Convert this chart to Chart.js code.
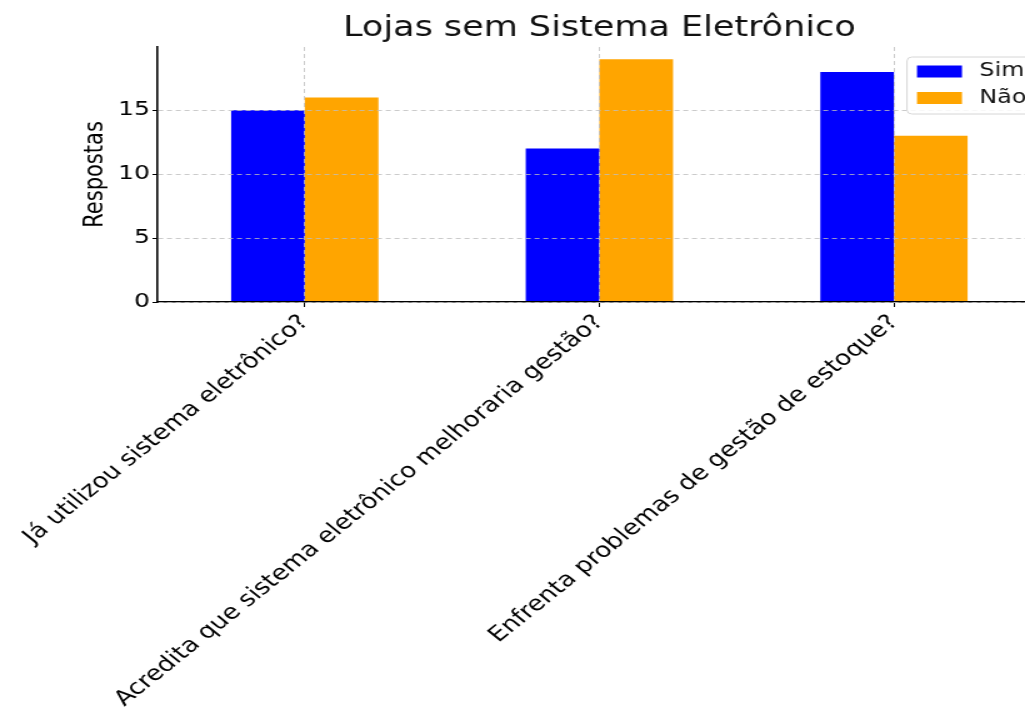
<!DOCTYPE html>
<html><head><meta charset="utf-8">
<script src="https://cdn.jsdelivr.net/npm/chart.js@4/dist/chart.umd.min.js"></script>
<style>
html,body{margin:0;padding:0;overflow:hidden;background:#fff;width:1025px;height:711px}
#wrap{width:833px;height:711px;transform:scaleX(1.25);transform-origin:0 0}
#c{display:block}
</style></head>
<body><div id="wrap"><canvas id="c" width="833" height="711" style="width:833px;height:711px"></canvas></div>
<script>
const categories = [
  "Já utilizou sistema eletrônico?",
  "Acredita que sistema eletrônico melhoraria gestão?",
  "Enfrenta problemas de gestão de estoque?"
];
const seriesNames = ["Sim", "Não"];
const simValues = [15, 12, 18];
const naoValues = [16, 19, 13];
const yTickValues = [0, 5, 10, 15];
const titleText = "Lojas sem Sistema Eletrônico";
const yAxisTitle = "Respostas";

const FONT = "DejaVu Sans";

const legendPlugin = {
  id: 'mplLegend',
  afterDraw(chart) {
    const ctx = chart.ctx;
    const ca = chart.chartArea;
    const x0 = ca.right - 107.4;
    const y0 = 57;
    const w = 120, h = 57;
    ctx.save();
    ctx.beginPath();
    const r = 4;
    ctx.moveTo(x0 + r, y0);
    ctx.lineTo(x0 + w - r, y0);
    ctx.quadraticCurveTo(x0 + w, y0, x0 + w, y0 + r);
    ctx.lineTo(x0 + w, y0 + h - r);
    ctx.quadraticCurveTo(x0 + w, y0 + h, x0 + w - r, y0 + h);
    ctx.lineTo(x0 + r, y0 + h);
    ctx.quadraticCurveTo(x0, y0 + h, x0, y0 + h - r);
    ctx.lineTo(x0, y0 + r);
    ctx.quadraticCurveTo(x0, y0, x0 + r, y0);
    ctx.closePath();
    ctx.fillStyle = 'rgba(255,255,255,0.85)';
    ctx.fill();
    ctx.strokeStyle = '#d6d6d6';
    ctx.lineWidth = 1;
    ctx.stroke();
    const rows = [71.5, 98];
    chart.data.datasets.forEach((ds, i) => {
      ctx.fillStyle = ds.backgroundColor;
      ctx.fillRect(x0 + 8, rows[i] - 6, 36, 12);
      ctx.fillStyle = '#111';
      ctx.font = `19px "${FONT}"`;
      ctx.textBaseline = 'middle';
      ctx.textAlign = 'left';
      ctx.fillText(ds.label, x0 + 58, rows[i]);
    });
    ctx.restore();
  }
};

new Chart(document.getElementById('c'), {
  type: 'bar',
  data: {
    labels: categories,
    datasets: [
      { label: seriesNames[0], data: simValues, backgroundColor: '#0000ff', borderWidth: 0,
        barPercentage: 1.0, categoryPercentage: 0.5 },
      { label: seriesNames[1], data: naoValues, backgroundColor: '#ffa500', borderWidth: 0,
        barPercentage: 1.0, categoryPercentage: 0.5 }
    ]
  },
  options: {
    responsive: false,
    animation: false,
    devicePixelRatio: 1,
    layout: { padding: { left: 60, right: 0, top: 0, bottom: 0 } },
    plugins: {
      legend: { display: false },
      tooltip: { enabled: false },
      title: {
        display: true, text: titleText, fullSize: false, color: '#111',
        font: { family: FONT, size: 28, weight: 'normal' },
        padding: { top: 12, bottom: 1.4 }
      }
    },
    scales: {
      x: {
        offset: true,
        grid: { display: true, offset: false, color: 'rgba(190,190,190,0.8)', lineWidth: 1,
                z: 1, drawTicks: true, tickLength: 5, tickColor: '#000', tickWidth: 1 },
        border: { display: true, color: '#000', width: 1.6, dash: [4, 3], z: 1 },
        ticks: { color: '#000', font: { family: FONT, size: 21 }, minRotation: 45, maxRotation: 45,
                 autoSkip: false, padding: 3 },
        afterFit(s) { s.height = 409; s.paddingLeft = 0; s.paddingRight = 0; }
      },
      y: {
        min: 0, max: 19.95,
        grid: { display: true, color: 'rgba(190,190,190,0.8)', lineWidth: 1, z: 1,
                drawTicks: true, tickLength: 4, tickColor: '#000', tickWidth: 1 },
        border: { display: true, color: '#000', width: 1.6, dash: [4, 3], z: 1 },
        ticks: { color: '#000', font: { family: FONT, size: 20 }, stepSize: 5, padding: 2 },
        afterBuildTicks(s) { s.ticks = yTickValues.map(v => ({ value: v })); },
        title: { display: true, text: yAxisTitle, color: '#000', font: { family: FONT, size: 21 },
                 padding: { top: 4, bottom: 4 } },
        afterFit(s) { s.width = 66; }
      }
    }
  },
  plugins: [legendPlugin]
});
</script>
</body></html>
